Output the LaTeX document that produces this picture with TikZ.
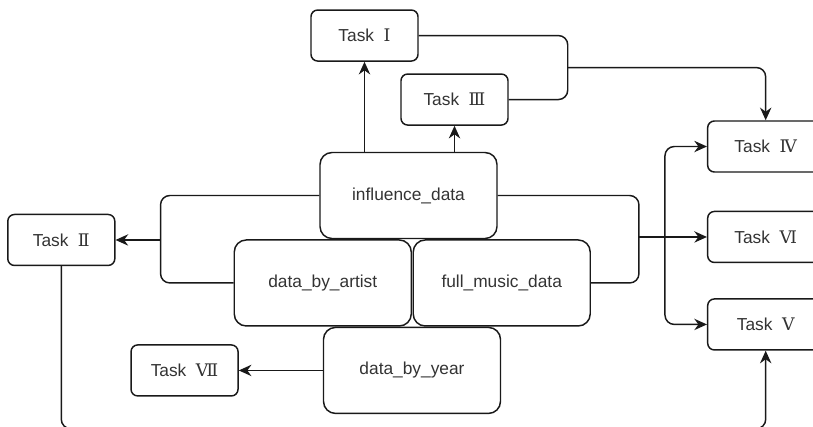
\documentclass[tikz,border=0pt]{standalone}
\usepackage{fontspec}
\setmainfont{Liberation Sans}
\newfontfamily\rom{DejaVu Serif}
\newcommand{\tasknum}[1]{Task\hspace{0.55em}{\rom #1}}
\usetikzlibrary{arrows.meta,positioning}

\begin{document}
\begin{tikzpicture}[
    line width=1.1pt, draw=black!90,
    every node/.style={draw, rectangle, align=center, text=black!80, font=\fontsize{13}{15}\selectfont},
    task/.style={rounded corners=5pt, minimum width=80.25pt, minimum height=38.25pt},
    side/.style={task, minimum width=87pt},
    data/.style={rounded corners=9pt, minimum width=132.75pt, minimum height=64.5pt},
    arrow/.style={-{Stealth[length=9.5pt, width=8.5pt]}, rounded corners=7pt},
    twoway/.style={{Stealth[length=9.5pt, width=8.5pt]}-{Stealth[length=9.5pt, width=8.5pt]}, rounded corners=7pt}
]
\clip (-306.375pt,-172.875pt) rectangle (303.375pt,146.625pt);
\node[data] (infl) {influence\_data};
\node[data] (artist) [below left=0pt and -2.625pt of infl.south] {data\_by\_artist};
\node[data] (full) [below right=0pt and 3pt of infl.south] {full\_music\_data};
\node[data] (year) [below=0pt of artist.south east] {data\_by\_year};
\node[task] (t1) [above=67.5pt of infl, xshift=-33pt] {\tasknum{Ⅰ}};
\node[task] (t3) [above=19.5pt of infl, xshift=34.5pt] {\tasknum{Ⅲ}};
\node[task] (t2) [left=88.5pt of artist, yshift=32.25pt] {\tasknum{Ⅱ}};
\node[task] (t7) [left=63pt of year] {\tasknum{Ⅶ}};
\node[side] (t6) [right=87pt of full, yshift=34.5pt] {\tasknum{Ⅵ}};
\node[side] (t4) [above=28.5pt of t6] {\tasknum{Ⅳ}};
\node[side] (t5) [below=26.25pt of t6] {\tasknum{Ⅴ}};
\coordinate (j1) at ([xshift=44.25pt, yshift=24pt]t3.east);
\coordinate (lb) at ([xshift=-54.75pt]artist.west);
\coordinate (rb) at ([xshift=36pt]full.east);
\draw[arrow] (t1.south |- infl.north) -- (t1.south);
\draw[arrow] (t3.south |- infl.north) -- (t3.south);
\draw[rounded corners=7pt] (t1.east) -| (j1 |- t3.east) -- (t3.east);
\draw[arrow] (j1) -| (t4.north);
\draw[rounded corners=7pt] (infl.west) -| (lb) -- (artist.west);
\draw[arrow] (lb |- t2.east) -- (t2.east);
\draw[rounded corners=7pt] (infl.east) -| (rb) -- (full.east);
\draw[arrow] (rb |- t6.west) -- (t6.west);
\draw[twoway] (t4.west) -- ++(-31.5pt,0) |- (t5.west);
\draw[arrow] (t2.south) |- ([yshift=-58.5pt]t5.south) -- (t5.south);
\draw[arrow] (year) -- (t7);
\end{tikzpicture}
\end{document}
